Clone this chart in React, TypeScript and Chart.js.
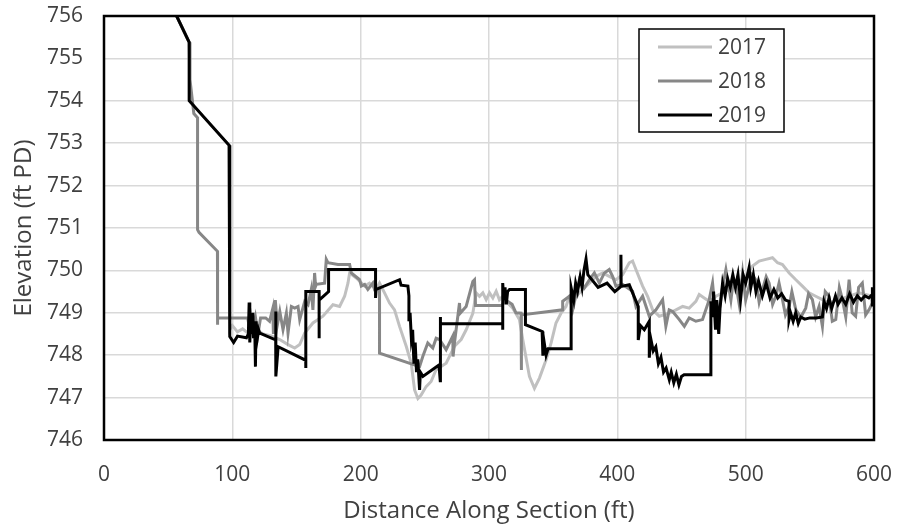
import React, { useEffect, useRef } from "react";
import { Chart, registerables } from "chart.js";

Chart.register(...registerables);

// ---- Data (distance ft, elevation ft PD) ----
const seriesLabels = ["2017", "2018", "2019"];
const xTicks = [0, 100, 200, 300, 400, 500, 600];
const yTicks = [746, 747, 748, 749, 750, 751, 752, 753, 754, 755, 756];

const dist2017 = [56.6, 66.4, 66.4, 97.5, 98, 100, 104, 108, 113, 119, 124, 131, 136.9, 143.4, 148.6, 152.5, 156.4, 162.8, 170.6, 178.4, 183.6, 187.5, 190.1, 191.4, 196.6, 203.1, 206.9, 212.1, 214.7, 218.6, 222.5, 226.4, 230.3, 235.5, 239.4, 242, 244.6, 247.1, 251, 254.9, 258.8, 266.6, 273.1, 278.3, 282.2, 287.4, 290, 292.6, 295.2, 297.8, 300.4, 303, 305.6, 308.1, 310.7, 313.3, 318.5, 323.7, 326.3, 331.5, 335.4, 339.3, 344.5, 348.4, 352.2, 356.1, 360, 362.6, 367.8, 373, 378.2, 383.4, 388.6, 393.7, 398.9, 404.1, 409.3, 411.9, 414.5, 419.7, 423.6, 427.5, 432.7, 440.5, 445.7, 450.9, 456, 461.2, 463.8, 467.7, 471.6, 476.8, 484.6, 492.4, 500.1, 505.3, 510.5, 515.7, 520.9, 524.8, 528.7, 533.9, 539.1, 544.2, 549.4, 554.6, 559.8, 565, 572.8, 580.6, 588.3, 598.7];
const elev2017 = [756.0, 755.38, 754.0, 752.95, 748.6, 748.7, 748.55, 748.62, 748.5, 748.6, 748.5, 748.45, 748.37, 748.25, 748.17, 748.25, 748.52, 748.76, 748.92, 749.19, 749.15, 749.39, 749.7, 749.94, 749.82, 749.63, 749.7, 749.55, 749.7, 749.47, 749.23, 749.07, 748.68, 748.21, 747.81, 747.18, 746.98, 747.06, 747.26, 747.38, 747.66, 747.81, 748.21, 748.37, 748.6, 748.99, 749.47, 749.39, 749.47, 749.31, 749.47, 749.35, 749.51, 749.31, 749.39, 749.27, 749.11, 748.84, 748.37, 747.5, 747.22, 747.46, 747.89, 748.29, 748.76, 748.99, 749.15, 749.39, 749.39, 749.55, 749.7, 749.86, 749.94, 749.86, 749.78, 749.9, 750.18, 750.22, 750.02, 749.63, 749.39, 749.07, 748.92, 748.99, 749.07, 749.15, 749.11, 749.27, 749.43, 749.35, 749.27, 749.39, 749.51, 749.67, 749.86, 750.1, 750.22, 750.26, 750.3, 750.18, 750.14, 749.94, 749.78, 749.63, 749.47, 749.39, 749.31, 749.23, 749.31, 749.39, 749.47, 749.39];

const dist2018 = [56.6, 66.4, 67, 70, 72.9, 72.9, 74, 88.4, 88.4, 88.6, 112, 113, 114, 116, 118, 120, 122, 126, 129, 131.5, 132, 133.5, 135, 137, 139.5, 142.1, 143.4, 146, 148.6, 151.2, 152.5, 156.4, 159, 161.5, 162.8, 164.1, 164.9, 165.4, 171.9, 173.2, 174.5, 182.3, 191.4, 192.7, 199.2, 200.5, 203.1, 205.6, 209.5, 210.8, 214.7, 214.7, 245.9, 248.4, 252.3, 256.2, 258.8, 261.4, 266.6, 271.8, 272, 273.1, 277, 277.5, 282.2, 287.4, 288.7, 289.5, 310, 313, 318, 321, 325, 325, 325.5, 357.4, 357.4, 362.6, 365.2, 370.4, 374.3, 378.2, 382.1, 386, 389.9, 393.7, 396.3, 398.9, 404.1, 411.9, 414.5, 419.7, 424.9, 430.1, 435.3, 437.8, 440.4, 443.1, 448.3, 452.2, 456, 461.2, 466.4, 471.6, 474.2, 476.5, 479.4, 482, 484.6, 488.5, 490.5, 492.4, 495, 497.6, 500, 502.7, 505, 507.9, 510.5, 513.1, 516, 518.3, 521, 523.5, 526, 528.7, 531, 533.9, 536, 539.1, 543, 546.8, 549, 552, 554.5, 557.2, 559.8, 562, 565, 567.5, 570.2, 573, 575.4, 578, 580.6, 583, 585.7, 588, 590.9, 593.5, 596.1, 598.7];
const elev2018 = [756.0, 755.38, 754.5, 753.7, 753.6, 750.96, 750.9, 750.45, 748.72, 748.88, 748.88, 748.7, 749.0, 748.6, 748.9, 748.5, 748.88, 748.88, 748.8, 749.1, 748.5, 749.3, 748.7, 749.03, 748.6, 748.99, 748.52, 749.15, 749.11, 749.15, 748.84, 749.27, 749.19, 749.55, 749.07, 749.94, 749.63, 749.67, 749.7, 750.26, 750.18, 750.14, 750.14, 749.94, 749.78, 749.63, 749.67, 749.55, 749.7, 749.55, 749.59, 748.05, 747.73, 747.97, 748.29, 748.17, 748.4, 748.37, 748.13, 748.45, 747.97, 748.29, 749.23, 748.99, 749.15, 749.74, 749.78, 749.17, 749.17, 749.3, 749.2, 749.0, 748.99, 747.65, 748.95, 749.07, 749.27, 749.39, 749.07, 749.78, 749.59, 749.78, 749.94, 749.7, 749.94, 750.02, 749.86, 749.63, 749.67, 749.51, 749.15, 749.39, 748.92, 749.07, 749.31, 748.68, 749.07, 749.03, 748.84, 748.68, 748.88, 748.8, 748.84, 749.31, 749.7, 748.95, 749.07, 749.6, 750.02, 749.3, 749.78, 749.67, 749.2, 749.94, 749.3, 749.63, 749.9, 749.78, 749.25, 749.55, 749.85, 749.7, 749.2, 749.39, 749.7, 749.31, 748.95, 749.15, 749.5, 749.07, 748.9, 749.11, 749.45, 749.31, 748.9, 749.15, 748.68, 749.5, 749.39, 748.8, 748.84, 749.6, 749.31, 748.9, 749.78, 749.0, 748.92, 749.6, 749.7, 748.95, 749.07, 749.23];

const dist2019 = [56.6, 66.4, 66.4, 97.5, 98, 101, 104, 111, 112.5, 113.1, 113.6, 114.5, 115, 116, 116.5, 117.5, 118, 118.5, 119.5, 120.5, 121.4, 133.8, 133.8, 134, 135.7, 157.2, 157.2, 157.3, 167.6, 167.6, 167.7, 175, 175, 211.6, 211.6, 212, 230.3, 231.5, 236.8, 237.6, 237.6, 238.5, 239.5, 240.5, 241.5, 242.5, 243.5, 244.5, 245.9, 246.5, 248.5, 261, 262, 262, 262.3, 310.7, 310.7, 310.7, 311.5, 312.5, 313.5, 314.5, 316, 328.4, 328.4, 341.4, 342, 343, 344.5, 346, 364, 364, 366, 367.5, 369, 371, 372.5, 374, 375.6, 377, 385, 392, 398, 402.8, 402.8, 403, 409.3, 416.3, 416.3, 418, 421, 424.9, 424.9, 426, 428, 430, 432, 434, 436, 438, 440.5, 442, 444, 446, 448, 450, 452, 472.9, 472.9, 474, 475, 476.5, 477.5, 479, 480, 482, 484, 486, 488, 490, 492, 494, 496, 498, 500, 502.7, 504, 506, 508, 510, 513, 516, 519, 522, 525, 528, 531, 533.8, 533.8, 535, 537, 539, 541, 543, 546, 550, 555, 559.8, 561, 563, 565, 567, 570, 572, 575, 578, 581, 584, 587, 590, 593, 596, 598.5, 598.5, 599];
const elev2019 = [756.0, 755.38, 754.0, 752.95, 748.44, 748.3, 748.45, 748.41, 748.5, 749.24, 748.3, 748.9, 748.5, 749.0, 748.4, 748.6, 747.73, 748.8, 748.4, 748.6, 748.52, 748.36, 749.03, 747.5, 748.2, 747.88, 747.7, 749.5, 749.5, 748.4, 749.3, 749.5, 750.02, 750.02, 749.35, 749.55, 749.78, 749.65, 749.63, 749.4, 748.8, 749.0, 748.4, 748.6, 747.8, 748.3, 747.6, 747.9, 747.18, 747.6, 747.5, 747.77, 747.4, 748.9, 748.74, 748.74, 748.6, 749.7, 749.3, 749.6, 749.2, 749.5, 749.55, 749.55, 748.72, 748.56, 747.99, 748.3, 748.0, 748.15, 748.15, 749.59, 749.3, 749.7, 749.5, 749.85, 749.6, 750.0, 750.27, 749.9, 749.6, 749.7, 749.5, 749.62, 750.37, 749.62, 749.66, 749.15, 748.36, 748.7, 748.6, 748.8, 747.94, 748.4, 748.1, 748.2, 747.8, 747.95, 747.6, 747.7, 747.42, 747.6, 747.35, 747.55, 747.3, 747.5, 747.54, 747.54, 749.27, 748.9, 749.5, 748.6, 749.3, 748.5, 749.1, 749.7, 749.4, 749.8, 749.6, 749.9, 749.6, 749.9, 749.3, 749.9, 749.7, 750.07, 749.6, 749.9, 749.5, 749.75, 749.4, 749.7, 749.35, 749.55, 749.35, 749.45, 749.3, 749.27, 748.84, 749.0, 748.8, 749.0, 748.75, 748.9, 748.85, 748.88, 748.88, 748.9, 749.27, 749.1, 749.35, 749.1, 749.4, 749.2, 749.35, 749.2, 749.45, 749.25, 749.4, 749.3, 749.4, 749.35, 749.43, 749.15, 749.6];

const seriesColors = ["#c0c0c0", "#878787", "#000000"];

const FONT = "'Open Sans', 'Noto Sans', sans-serif";
const TEXT = "#404040";

const toPoints = (xs: number[], ys: number[]) => xs.map((x, i) => ({ x, y: ys[i] }));

const framePlugin = {
  id: "frame",
  afterDatasetsDraw(chart: any) {
    const { ctx, chartArea } = chart;
    ctx.save();
    ctx.strokeStyle = "#000";
    ctx.lineWidth = 2.5;
    ctx.strokeRect(chartArea.left, chartArea.top, chartArea.right - chartArea.left, chartArea.bottom - chartArea.top);
    ctx.restore();
  },
};

const legendPlugin = {
  id: "boxLegend",
  afterDraw(chart: any) {
    const { ctx, chartArea } = chart;
    const x0 = chartArea.right - 235;
    const y0 = chartArea.top + 13;
    const w = 145;
    const h = 103;
    ctx.save();
    ctx.fillStyle = "#fff";
    ctx.fillRect(x0, y0, w, h);
    ctx.strokeStyle = "#000";
    ctx.lineWidth = 1.5;
    ctx.strokeRect(x0, y0, w, h);
    ctx.font = `21px ${FONT}`;
    ctx.textBaseline = "middle";
    ctx.textAlign = "left";
    chart.data.datasets.forEach((ds: any, i: number) => {
      const y = y0 + 18 + i * 34;
      ctx.strokeStyle = ds.borderColor;
      ctx.lineWidth = ds.borderWidth;
      ctx.beginPath();
      ctx.moveTo(x0 + 19, y);
      ctx.lineTo(x0 + 73, y);
      ctx.stroke();
      ctx.fillStyle = TEXT;
      ctx.fillText(ds.label, x0 + 79, y + 1);
    });
    ctx.restore();
  },
};

export default function App() {
  const ref = useRef<HTMLCanvasElement>(null);

  useEffect(() => {
    const canvas = ref.current;
    if (!canvas) return;
    const xs = [dist2017, dist2018, dist2019];
    const ys = [elev2017, elev2018, elev2019];
    const chart = new Chart(canvas, {
      type: "scatter",
      data: {
        datasets: seriesLabels.map((label, i) => ({
          label,
          data: toPoints(xs[i], ys[i]),
          showLine: true,
          borderColor: seriesColors[i],
          backgroundColor: seriesColors[i],
          borderWidth: 3,
          pointRadius: 0,
          pointHoverRadius: 0,
          tension: 0,
          order: 3 - i,
        })),
      },
      options: {
        animation: false,
        responsive: false,
        devicePixelRatio: 1,
        events: [],
        layout: { padding: { top: 16, right: 23, bottom: 0, left: 0 } },
        plugins: {
          legend: { display: false },
          tooltip: { enabled: false },
        },
        scales: {
          x: {
            type: "linear",
            min: xTicks[0],
            max: xTicks[xTicks.length - 1],
            afterBuildTicks: (s: any) => {
              s.ticks = xTicks.map((v) => ({ value: v }));
            },
            afterFit: (s: any) => {
              s.height = 89;
              s.paddingLeft = 0;
              s.paddingRight = 0;
              s.paddingTop = 0;
              s.paddingBottom = 0;
            },
            ticks: {
              font: { family: FONT, size: 21 },
              color: TEXT,
              padding: 22,
              maxRotation: 0,
            },
            grid: { color: "#d9d9d9", lineWidth: 1.5, drawTicks: false },
            border: { display: false },
            title: {
              display: true,
              text: "Distance Along Section (ft)",
              font: { family: FONT, size: 24 },
              color: TEXT,
              padding: { top: 0, bottom: 3 },
            },
          },
          y: {
            type: "linear",
            min: yTicks[0],
            max: yTicks[yTicks.length - 1],
            afterBuildTicks: (s: any) => {
              s.ticks = yTicks.map((v) => ({ value: v }));
            },
            afterFit: (s: any) => {
              s.width = 104;
              s.paddingLeft = 0;
              s.paddingRight = 0;
              s.paddingTop = 0;
              s.paddingBottom = 0;
            },
            ticks: {
              font: { family: FONT, size: 21 },
              color: TEXT,
              padding: 21,
            },
            grid: { color: "#d9d9d9", lineWidth: 1.5, drawTicks: false },
            border: { display: false },
            title: {
              display: true,
              text: "Elevation (ft PD)",
              font: { family: FONT, size: 24 },
              color: TEXT,
              padding: { top: 10, bottom: 0 },
            },
          },
        },
      },
      plugins: [framePlugin, legendPlugin],
    });
    return () => chart.destroy();
  }, []);

  return (
    <div style={{ position: "fixed", left: 0, top: 0, width: 897, height: 529, background: "#fff" }}>
      <canvas ref={ref} width={897} height={529} style={{ display: "block" }} />
    </div>
  );
}
